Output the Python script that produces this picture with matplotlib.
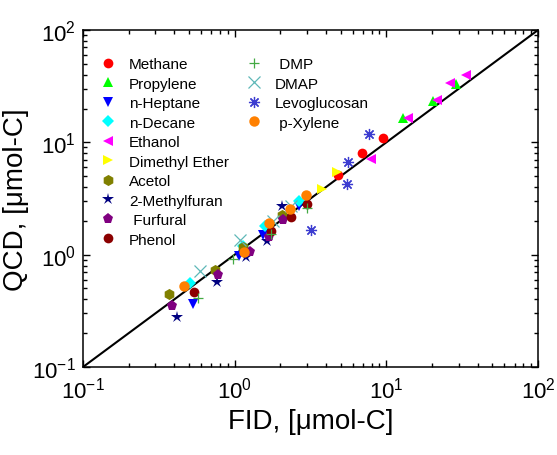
import numpy as np
import matplotlib.pyplot as plt
from matplotlib.lines import Line2D

plt.rcParams['font.family'] = ['Liberation Sans', 'DejaVu Sans']
plt.rcParams['mathtext.fontset'] = 'custom'
plt.rcParams['mathtext.rm'] = 'Liberation Sans'
plt.rcParams['mathtext.it'] = 'Liberation Sans:italic'

# carbon amounts measured by FID (x) and QCD (y), in umol-C
methane_fid = [9.46, 6.9, 4.8]
methane_qcd = [11.0, 8.05, 5.1]
propylene_fid = [28.8, 20.2, 12.9]
propylene_qcd = [32.9, 23.4, 16.4]
heptane_fid = [0.528, 1.06, 1.54, 2.67]
heptane_qcd = [0.361, 0.98, 1.50, 2.70]
decane_fid = [0.509, 1.13, 1.58, 2.67]
decane_qcd = [0.560, 1.19, 1.79, 3.03]
ethanol_fid = [33.5, 26.3, 21.7, 13.9, 7.88]
ethanol_qcd = [40.1, 33.8, 24.0, 16.6, 7.11]
dme_fid = [4.70, 3.76]
dme_qcd = [5.42, 3.82]
acetol_fid = [0.367, 0.745, 1.13, 2.05]
acetol_qcd = [0.444, 0.734, 1.16, 2.26]
methylfuran_fid = [0.417, 0.760, 1.19, 1.63, 2.05]
methylfuran_qcd = [0.279, 0.575, 0.96, 1.33, 2.73]
furfural_fid = [0.385, 0.780, 1.27, 1.69, 2.09]
furfural_qcd = [0.347, 0.659, 1.06, 1.45, 2.05]
phenol_fid = [0.542, 1.73, 2.35, 3.01]
phenol_qcd = [0.462, 1.64, 2.17, 2.81]
dmp_fid = [0.570, 0.98, 1.73, 3.01]
dmp_qcd = [0.411, 0.916, 1.52, 2.59]
dmap_fid = [0.590, 1.08, 1.80, 2.35]
dmap_qcd = [0.721, 1.36, 2.01, 2.73]
levo_fid = [7.71, 5.61, 5.50, 3.17]
levo_qcd = [11.97, 6.73, 4.24, 1.65]
xylene_fid = [2.95, 2.31, 1.69, 1.15, 0.466]
xylene_qcd = [3.40, 2.55, 1.92, 1.05, 0.524]

labels = ['Methane', 'Propylene', 'n-Heptane', 'n-Decane', 'Ethanol',
          'Dimethyl Ether', 'Acetol', '2-Methylfuran', ' Furfural', 'Phenol',
          ' DMP', 'DMAP', 'Levoglucosan', ' p-Xylene']
fid = [methane_fid, propylene_fid, heptane_fid, decane_fid, ethanol_fid,
       dme_fid, acetol_fid, methylfuran_fid, furfural_fid, phenol_fid,
       dmp_fid, dmap_fid, levo_fid, xylene_fid]
qcd = [methane_qcd, propylene_qcd, heptane_qcd, decane_qcd, ethanol_qcd,
       dme_qcd, acetol_qcd, methylfuran_qcd, furfural_qcd, phenol_qcd,
       dmp_qcd, dmap_qcd, levo_qcd, xylene_qcd]

# marker, color, size, edge width
styles = [
    ('o', '#ff0000', 7, 0),
    ('^', '#00ff00', 7.5, 0),
    ('v', '#0000ff', 7.5, 0),
    ('D', '#00ffff', 6, 0),
    ('<', '#ff00ff', 7.5, 0),
    ('>', '#ffff00', 7.5, 0),
    ('h', '#808000', 8, 0),
    ('*', '#000080', 9, 0),
    ('p', '#800080', 8, 0),
    ('o', '#8b0000', 7, 0),
    ('+', '#44aa44', 7, 0.9),
    ('x', '#5fb8b8', 8, 0.9),
    ((8, 2, 0), '#3c3cd0', 8, 0.9),
    ('o', '#ff8000', 7.5, 0),
]

fig = plt.figure(figsize=(5.57, 4.56), dpi=100)
ax = fig.add_axes([0.149, 0.193, 0.817, 0.739])

ax.plot([0.1, 100], [0.1, 100], color='black', lw=1.5, zorder=1)

handles = []
for lab, xs, ys, (m, c, s, ew) in zip(labels, fid, qcd, styles):
    h, = ax.plot(xs, ys, ls='none', marker=m, color=c, ms=s, mew=ew, label=lab)
    handles.append(h)

ax.set_xscale('log')
ax.set_yscale('log')
ax.set_xlim(0.1, 100)
ax.set_ylim(0.1, 100)

ax.tick_params(which='both', direction='in', top=True, right=True, labelsize=16)
ax.tick_params(which='major', length=5, width=1)
ax.tick_params(which='minor', length=3, width=1)
ax.tick_params(axis='x', pad=7)
ax.tick_params(axis='y', pad=5)
for sp in ax.spines.values():
    sp.set_linewidth(1.1)

ax.set_xlabel('FID, [μmol-C]', fontsize=20, labelpad=4)
ax.set_ylabel('QCD, [μmol-C]', fontsize=20, labelpad=2)

leg1 = ax.legend(handles=handles[:10], loc='upper left', bbox_to_anchor=(0.0, 0.96),
                 frameon=False, fontsize=11, labelspacing=0.36, handletextpad=0.6,
                 handlelength=1.5)
ax.add_artist(leg1)
ax.legend(handles=handles[10:], loc='upper left', bbox_to_anchor=(0.321, 0.96),
          frameon=False, fontsize=11, labelspacing=0.36, handletextpad=0.6,
          handlelength=1.5)

fig.savefig('out.png', dpi=100)
